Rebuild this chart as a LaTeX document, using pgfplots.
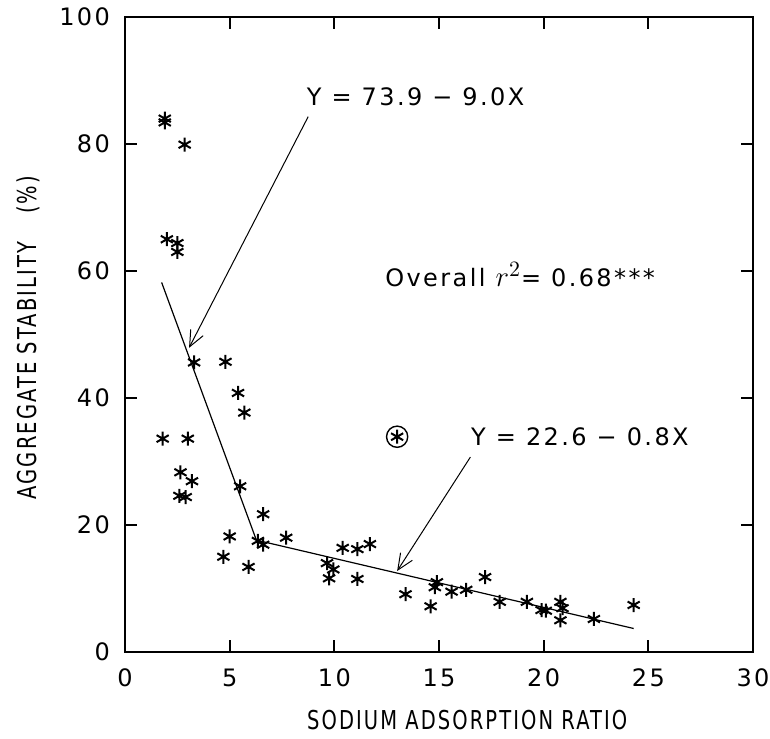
\documentclass[border=0pt]{standalone}
\usepackage{fontspec}
\setmainfont{DejaVu Sans}[LetterSpace=10]
\newfontfamily\labelfont{DejaVu Sans}[FakeStretch=0.75, LetterSpace=8]
\usepackage{pgfplots}
\pgfplotsset{compat=1.18}
\usetikzlibrary{arrows.meta}

\pgfplotstableread{
x y
1.9 84.0
1.9 83.4
2.85 79.9
2.0 65.0
2.5 64.4
2.5 63.0
3.3 45.6
4.8 45.7
5.4 40.8
5.7 37.7
1.8 33.6
3.0 33.6
2.65 28.3
3.2 26.9
2.6 24.6
2.9 24.4
5.5 26.1
6.6 21.7
5.0 18.2
4.7 15.0
5.9 13.4
6.35 17.5
6.6 16.9
7.7 18.0
9.65 14.0
9.95 13.0
9.75 11.6
10.4 16.4
11.1 16.2
11.7 17.0
11.1 11.5
13.4 9.1
14.6 7.2
14.9 11.0
14.8 10.2
15.6 9.5
16.3 9.8
17.2 11.8
17.9 7.9
19.2 7.9
19.9 6.6
20.1 6.5
20.8 7.9
20.9 6.9
20.8 5.0
22.4 5.2
24.3 7.4
13.0 33.9
}\datatable

\begin{document}
\begin{tikzpicture}
\useasboundingbox (-62.5pt,-43pt) rectangle (322.5pt,326pt);
\begin{axis}[
  at={(0,0)}, anchor=south west, scale only axis,
  width=314pt, height=317.5pt,
  xmin=0, xmax=30, ymin=0, ymax=100,
  xtick={0,5,...,30}, ytick={0,20,...,100},
  major tick length=6pt,
  axis line style={line width=1pt},
  every tick/.style={black, line width=0.9pt},
  /pgf/number format/assume math mode=true,
  tick label style={font=\fontsize{12}{14}\selectfont},
  xticklabel style={yshift=-5pt},
  yticklabel style={xshift=-4pt},
  xlabel={SODIUM ADSORPTION RATIO},
  ylabel={AGGREGATE STABILITY\hspace{14pt}(\%)},
  label style={font=\labelfont\fontsize{13}{15}\selectfont},
  x label style={at={(axis description cs:0.545,-0.107)}, anchor=center},
  y label style={at={(axis description cs:-0.154,0.495)}, anchor=center},
  clip=false,
]
\addplot[only marks, mark=asterisk, mark size=3.5pt, mark options={line width=1pt, black}] table {\datatable};
\addplot[only marks, mark=o, mark size=5.3pt, mark options={line width=0.7pt, black}] coordinates {(13.0,33.9)};
\addplot[black, line width=0.6pt] coordinates {(1.75,58.2) (6.3,17.4)};
\addplot[black, line width=0.6pt] coordinates {(6.3,17.6) (24.3,3.7)};
\draw[black, line width=0.5pt, -{Straight Barb[length=8pt,width=7pt]}] (axis cs:8.75,84.3) -- (axis cs:3.06,47.9);
\draw[black, line width=0.5pt, -{Straight Barb[length=8pt,width=7pt]}] (axis cs:16.5,30.7) -- (axis cs:13.0,12.75);
\node[anchor=west, font=\fontsize{12}{14}\selectfont] at (axis cs:8.35,87.4) {Y = 73.9 − 9.0X};
\node[anchor=west, font=\fontsize{12}{14}\selectfont] at (axis cs:12.1,59.4) {Overall {\fontsize{15}{15}\selectfont$r^{2}$}= 0.68***};
\node[anchor=west, font=\fontsize{12}{14}\selectfont] at (axis cs:16.2,33.9) {Y = 22.6 − 0.8X};
\end{axis}
\end{tikzpicture}
\end{document}
